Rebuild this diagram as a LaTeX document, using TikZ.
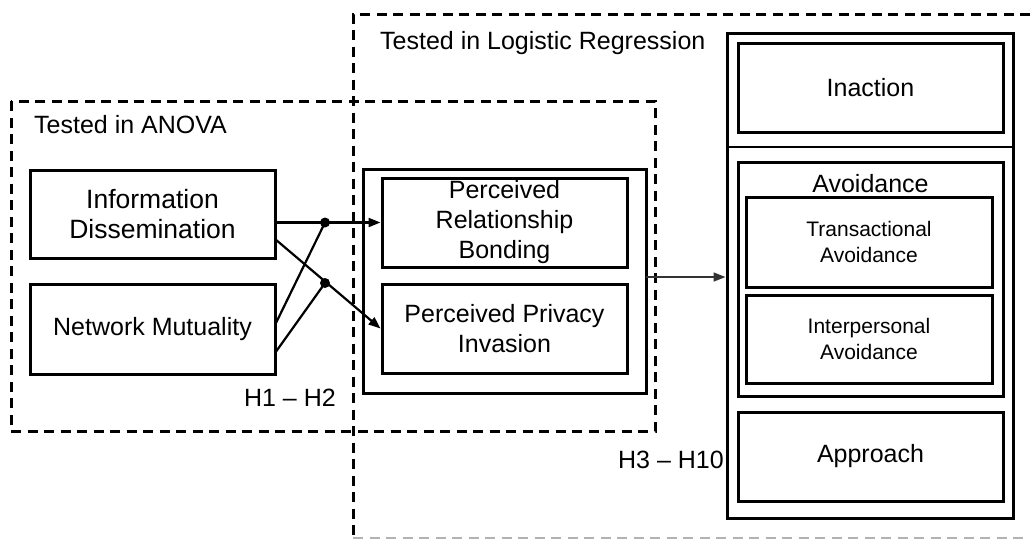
\documentclass[tikz,border=0pt]{standalone}
\usepackage{fontspec}
\setmainfont{Liberation Sans}
\usetikzlibrary{arrows.meta, positioning}

\begin{document}
\begin{tikzpicture}[x=1pt, y=-1pt,
    box/.style={draw, line width=3pt, align=center, inner sep=0pt, font=\fontsize{25}{30}\selectfont},
    smallbox/.style={box, font=\fontsize{21}{26}\selectfont},
    region/.style={draw, line width=3pt, dash pattern=on 10pt off 6.5pt},
    lbl/.style={inner sep=0pt, font=\fontsize{25}{30}\selectfont},
    conn/.style={line width=2.2pt},
    arr/.style={conn, -{Triangle[length=12pt, width=9pt]}},
    dot/.style={circle, fill, inner sep=0pt, minimum size=10pt}]
  \useasboundingbox (0,0) rectangle (1030,539);
  % dashed regions
  \draw[region] (11,101) rectangle (655,431);
  \draw[region] (1030,14) -- (353,14) -- (353,537);
  \draw[region, draw=black!30, line width=2pt] (353,538) -- (1030,538);
  \node[lbl, anchor=west] (anova) at (34,125) {Tested in ANOVA};
  \node[lbl, anchor=west] (logit) at (380,43) {Tested in Logistic Regression};
  \node[lbl, anchor=east] (h12) at (336,398) {H1 -- H2};
  \node[lbl, anchor=east] (h310) at (724,460) {H3 -- H10};
  % antecedents
  \node[box, minimum width=245pt, minimum height=88pt, font=\fontsize{26.5}{30}\selectfont] (info) at (152.5,214) {Information\\Dissemination};
  \node[box, minimum width=245pt, minimum height=90pt] (mutual) at (152.5,329) {Network Mutuality};
  % mediators
  \node[box, minimum width=283pt, minimum height=224pt] (medbox) at (504.5,281) {};
  \node[box, minimum width=245pt, minimum height=89pt] (bond) at (504.5,222.5) {\fontsize{25}{31.5}\selectfont Perceived\\Relationship\\Bonding};
  \node[box, minimum width=245pt, minimum height=89pt] (privacy) at (504.5,328.5) {Perceived Privacy\\Invasion};
  % outcomes
  \node[box, minimum width=286pt, minimum height=485pt] (outcome) at (870,275.5) {};
  \coordinate (divy) at (0,147);
  \draw[line width=2.2pt] (outcome.west |- divy) -- (outcome.east |- divy);
  \node[box, minimum width=265pt, minimum height=89pt] (inaction) at (870.5,87.5) {Inaction};
  \node[box, minimum width=265pt, minimum height=234pt] (avoid) at (870.5,279) {};
  \node[lbl] (avoidlbl) at (870.5,184) {Avoidance};
  \node[smallbox, minimum width=246pt, minimum height=90pt] (trans) at (869,242) {Transactional\\Avoidance};
  \node[smallbox, minimum width=246pt, minimum height=88pt] (inter) at (869,339) {Interpersonal\\Avoidance};
  \node[box, minimum width=265pt, minimum height=89pt] (approach) at (870.5,456.5) {Approach};
  % connectors
  \coordinate (i2) at (275,239);
  \coordinate (n1) at (275,325);
  \coordinate (n2) at (275,353);
  \coordinate (m1) at (646,277);
  \node[dot] (d1) at (325,222.5) {};
  \node[dot] (d2) at (325,283) {};
  \draw[arr] (info.east |- bond.west) -- (bond.west);
  \draw[arr] (i2) -- (privacy.west);
  \draw[conn] (n1) -- (d1.center);
  \draw[conn] (n2) -- (d2.center);
  \draw[line width=1.6pt, draw=black!80, -{Triangle[length=12pt, width=9pt]}] (m1) -- (m1 -| outcome.west);
\end{tikzpicture}
\end{document}
